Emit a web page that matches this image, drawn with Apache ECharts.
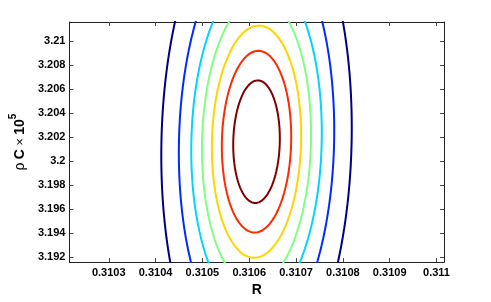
<!DOCTYPE html>
<html>
<head>
<meta charset="utf-8">
<script src="https://cdn.jsdelivr.net/npm/echarts@6/dist/echarts.min.js"></script>
<style>html,body{margin:0;padding:0;background:#fff;}#c{width:491px;height:302px;}</style>
</head>
<body>
<div id="c"></div>
<script>
// Axis ranges and tick labels
const xRange = [0.310216, 0.311016];
const yRange = [3.1916, 3.2116];
const xTicks = [0.3103, 0.3104, 0.3105, 0.3106, 0.3107, 0.3108, 0.3109, 0.311];
const yTicks = [3.192, 3.194, 3.196, 3.198, 3.2, 3.202, 3.204, 3.206, 3.208, 3.21];

// Contour levels (outer -> inner)
const levelColors = ['#000080', '#002AFF', '#00D4FF', '#80FF80', '#FFD400', '#FF2A00', '#800000'];
const centerR = 0.3106156;
const centerC = 3.20163;
const tiltR = 0.00052; // R shift per unit of rho*C (slight positive correlation)
const halfWidthR = [20.31e-5, 16.57e-5, 13.92e-5, 11.63e-5, 9.52e-5, 7.40e-5, 4.97e-5];
const halfHeightC = [0.02125, 0.01726, 0.01410, 0.01195, 0.00967, 0.00757, 0.00511];

function contourPoints(i) {
  const pts = [];
  const n = 360;
  for (let k = 0; k <= n; k++) {
    const t = 2 * Math.PI * k / n;
    const dy = halfHeightC[i] * Math.sin(t);
    const x = centerR + halfWidthR[i] * Math.cos(t) + tiltR * dy;
    pts.push([x, centerC + dy]);
  }
  return pts;
}

const fmt = (v, d) => String(parseFloat(v.toFixed(d)));
const font = 'Liberation Sans, Arial, Helvetica, sans-serif';
const axisCol = '#222';

const series = levelColors.map((c, i) => ({
  type: 'line',
  data: contourPoints(i),
  showSymbol: false,
  symbol: 'none',
  smooth: false,
  clip: true,
  lineStyle: { color: c, width: 2 },
  silent: true
}));

const common = {
  type: 'value', scale: true,
  splitLine: { show: false },
  axisLine: { show: true, onZero: false, lineStyle: { color: axisCol, width: 1 } },
  axisTick: { show: true, inside: true, length: 4, lineStyle: { color: '#444' } }
};

const option = {
  animation: false,
  backgroundColor: '#fff',
  grid: { left: 63, top: 22, width: 381, height: 246, containLabel: false },
  xAxis: [
    Object.assign({}, common, {
      min: xRange[0], max: xRange[1], position: 'bottom',
      axisTick: Object.assign({}, common.axisTick, { customValues: xTicks }),
      axisLabel: { customValues: xTicks, formatter: v => fmt(v, 4), margin: 5,
        fontFamily: font, fontWeight: 'bold', fontSize: 11, color: '#000' },
      name: 'R', nameLocation: 'middle', nameGap: 16,
      nameTextStyle: { fontFamily: font, fontWeight: 'bold', fontSize: 14, color: '#000' }
    }),
    Object.assign({}, common, {
      min: xRange[0], max: xRange[1], position: 'top',
      axisTick: Object.assign({}, common.axisTick, { customValues: xTicks }),
      axisLabel: { show: false }
    })
  ],
  yAxis: [
    Object.assign({}, common, {
      min: yRange[0], max: yRange[1], position: 'left',
      axisTick: Object.assign({}, common.axisTick, { customValues: yTicks }),
      axisLabel: { customValues: yTicks, formatter: v => fmt(v, 3), margin: 4,
        fontFamily: font, fontWeight: 'bold', fontSize: 11, color: '#000' },
      name: '{r|ρ} {b|C} {n|×} {b|10}{s|5}', nameLocation: 'middle', nameGap: 30,
      nameTextStyle: {
        color: '#000', fontFamily: font,
        rich: {
          r: { fontSize: 14, fontWeight: 'normal', lineHeight: 24, fontFamily: font, color: '#000' },
          b: { fontSize: 14, fontWeight: 'bold', lineHeight: 24, fontFamily: font, color: '#000' },
          n: { fontSize: 13, fontWeight: 'normal', lineHeight: 24, fontFamily: font, color: '#000' },
          s: { fontSize: 10, fontWeight: 'bold', lineHeight: 10, verticalAlign: 'top', fontFamily: font, color: '#000' }
        }
      }
    }),
    Object.assign({}, common, {
      min: yRange[0], max: yRange[1], position: 'right',
      axisTick: Object.assign({}, common.axisTick, { customValues: yTicks }),
      axisLabel: { show: false }
    })
  ],
  series: series
};

const chart = echarts.init(document.getElementById('c'), null, { renderer: 'canvas' });
chart.setOption(option);
</script>
</body>
</html>
